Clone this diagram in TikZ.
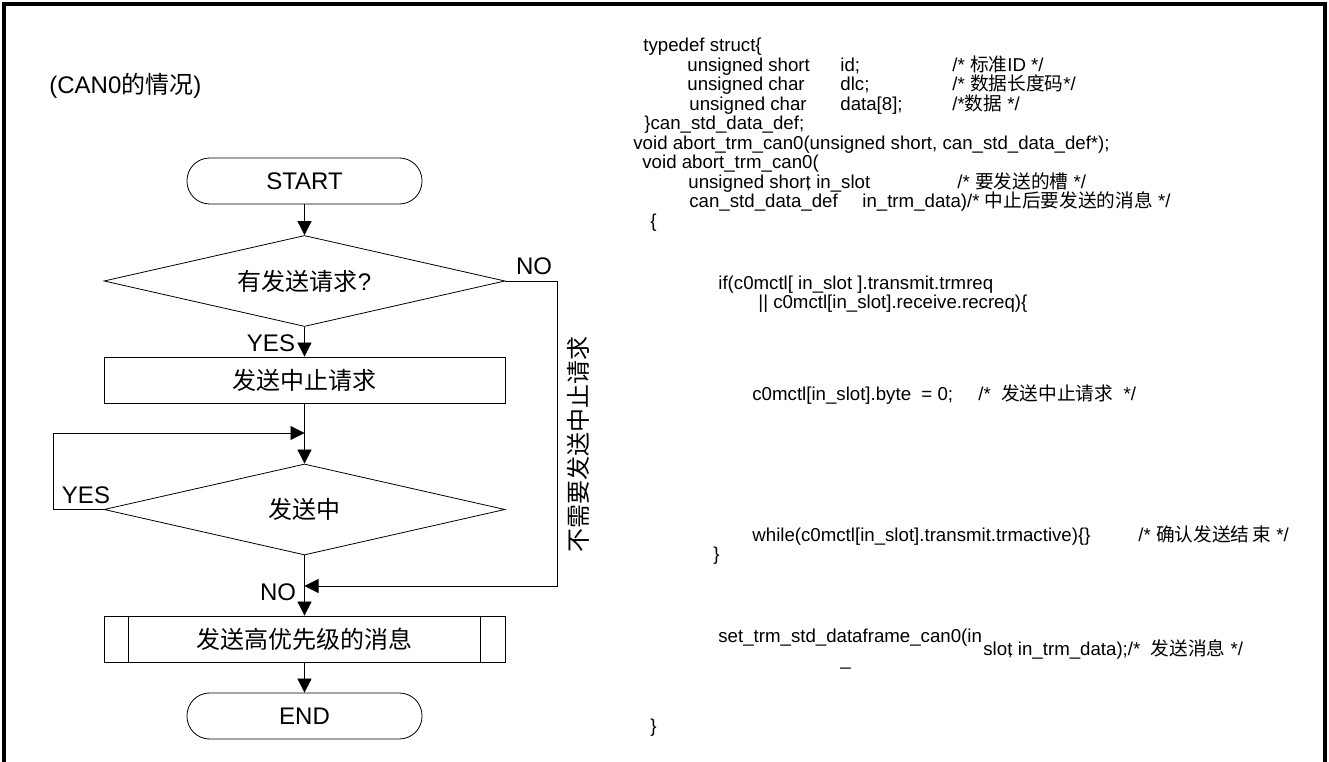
\documentclass[tikz,border=0pt]{standalone}
\usepackage{fontspec}
\setmainfont{Liberation Sans}
\newfontfamily\cjkf{Noto Sans CJK SC}
\usetikzlibrary{arrows.meta,shapes.geometric}
\newcommand\cj[1]{{\cjkf #1}}

\begin{document}
\begin{tikzpicture}[x=0.75pt,y=-0.75pt,line width=0.6pt,
  >={Triangle[length=10.5pt,width=10.5pt]},
  flow/.style={font=\fontsize{18pt}{21pt}\selectfont},
  lbl/.style={flow,inner sep=0pt},
  term/.style={flow,draw,rectangle,rounded corners=17pt,
    minimum width=235*0.75pt,minimum height=46*0.75pt,inner sep=0pt},
  procbox/.style={flow,draw,rectangle,
    minimum width=401*0.75pt,minimum height=46*0.75pt,inner sep=0pt},
  decide/.style={flow,draw,diamond,shape aspect=4.4,
    minimum width=401*0.75pt,minimum height=91*0.75pt,inner sep=0pt},
  code/.style={font=\fontsize{14pt}{16pt}\selectfont,anchor=base west,inner sep=0pt},
  frame/.style={line width=2.4pt}
]
\useasboundingbox (0,0) rectangle (1329,762);

% outer frame (open at the bottom)
\coordinate (fbl) at (4,762);
\coordinate (ftl) at (4,4);
\coordinate (ftr) at (1325,4);
\coordinate (fbr) at (1325,762);
\draw[frame] (fbl) -- (ftl) -- (ftr) -- (fbr);

% ---------------- flowchart ----------------
\node[lbl,anchor=west] (title) at (49,86) {(CAN0\cj{的情况})};

\node[term]    (start) at (304.5,181)   {START};
\node[decide]  (d1)    at (304.5,281)   {\cj{有发送请求}?};
\node[procbox] (b1)    at (304.5,380)   {\cj{发送中止请求}};
\coordinate    (j1)    at (304.5,433);
\node[decide]  (d2)    at (304.5,509.5) {\cj{发送中}};
\coordinate    (j2)    at (304.5,586);
\node[procbox] (b2)    at (304.5,639)   {\cj{发送高优先级的消息}};
\node[term]    (stop)  at (304.5,716)   {END};

% side bars of the predefined-process box
\draw ([xshift=25*0.75pt]b2.north west) -- ([xshift=25*0.75pt]b2.south west);
\draw ([xshift=-25*0.75pt]b2.north east) -- ([xshift=-25*0.75pt]b2.south east);

% loop and bypass corners
\coordinate (lp) at (53,509.5);
\coordinate (rc) at (557,586);

\draw[->] (start) -- (d1);
\draw[->] (d1) -- (b1);
\draw (b1) -- (j1);
\draw[->] (j1) -- (d2);
\draw[->] (d2.west) -- (lp) |- (j1);
\draw (d2) -- (j2);
\draw[->] (j2) -- (b2);
\draw[->] (d1.east) -| (rc) -- (j2);
\draw[->] (b2) -- (stop);

\node[lbl] (yes1) at (271,343) {YES};
\node[lbl] (yes2) at (86,495)  {YES};
\node[lbl] (no1)  at (534,266) {NO};
\node[lbl] (no2)  at (278,592) {NO};
\node[lbl,rotate=90] (skip) at (578,445) {\cj{不需要发送中止请求}};

% ---------------- source listing ----------------
\node[code] (c1)  at (643,52)   {typedef struct\{};
\node[code] (c2a) at (687,71.5) {unsigned short};
\node[code] (c2b) at (840,71.5) {id;};
\node[code] (c2c) at (952,71.5) {/* \cj{标准}ID */};
\node[code] (c3a) at (687,91)   {unsigned char};
\node[code] (c3b) at (840,91)   {dlc;};
\node[code] (c3c) at (952,91)   {/* \cj{数据长度码}*/};
\node[code] (c4a) at (689,110.5){unsigned char};
\node[code] (c4b) at (840,110.5){data[8];};
\node[code] (c4c) at (952,110.5){/*\cj{数据} */};
\node[code] (c5)  at (644,130)  {\}can\_std\_data\_def;};
\node[code] (c6)  at (633,149.5){void abort\_trm\_can0(unsigned short, can\_std\_data\_def*);};
\node[code] (c7)  at (642,169)  {void abort\_trm\_can0(};
\node[code] (c8a) at (688,188.5){unsigned short\kern-0.26em, in\_slot};
\node[code] (c8b) at (957,188.5){/* \cj{要发送的槽} */};
\node[code] (c9a) at (689,208)  {can\_std\_data\_def};
\node[code] (c9b) at (862,208)  {in\_trm\_data)/* \cj{中止后要发送的消息} */};
\node[code] (c10) at (650,227.5){\{};
\node[code] (c11) at (718,290)  {if(c0mctl[ in\_slot ].transmit.trmreq};
\node[code] (c12) at (758,309)  {|| c0mctl[in\_slot].receive.recreq)\{};
\node[code] (c13a) at (752,401) {c0mctl[in\_slot].byte\ \ = 0;};
\node[code] (c13b) at (978,401) {/*\ \ \cj{发送中止请求}\ \ */};
\node[code] (c14a) at (752,542) {while(c0mctl[in\_slot].transmit.trmactive)\{\}};
\node[code] (c14b) at (1138,542){/* \cj{确认发送结}\,\cj{束} */};
\node[code] (c15) at (713,561)  {\}};
\node[code] (c16a) at (718,643) {set\_trm\_std\_dataframe\_can0(in};
\node[code] (c16b) at (983,656) {slot\kern-0.26em, in\_trm\_data);/*\ \ \cj{发送消息} */};
\node[code] (c16c) at (840,666) {\_};
\node[code] (c17) at (650,733)  {\}};
\end{tikzpicture}
\end{document}
